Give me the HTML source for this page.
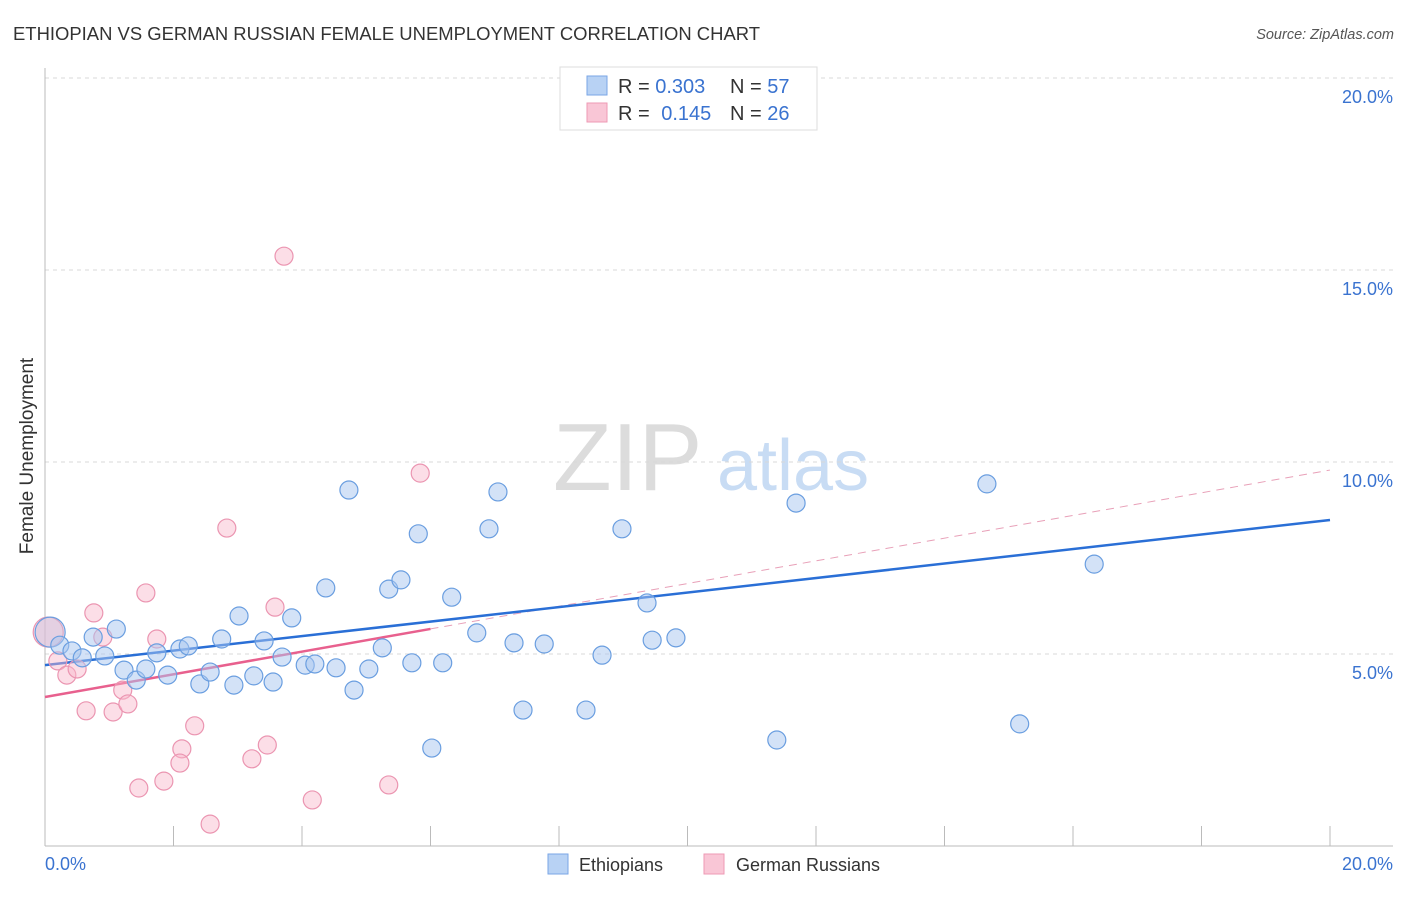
<!DOCTYPE html>
<html><head><meta charset="utf-8"><style>
body{margin:0;background:#fff;font-family:"Liberation Sans",sans-serif}
svg text{font-family:"Liberation Sans",sans-serif}
</style></head><body>
<svg id="c" width="1406" height="892" xmlns="http://www.w3.org/2000/svg">
<text x="13" y="40" font-size="18" fill="#333" textLength="747" lengthAdjust="spacingAndGlyphs">ETHIOPIAN VS GERMAN RUSSIAN FEMALE UNEMPLOYMENT CORRELATION CHART</text>
<text x="1394" y="39" font-size="14.5" fill="#555" font-style="italic" text-anchor="end">Source: ZipAtlas.com</text>
<text transform="translate(33,456) rotate(-90)" font-size="19" fill="#333" text-anchor="middle">Female Unemployment</text>
<g>
<text x="553" y="490" font-size="96" fill="#dcdcdc" font-family="Liberation Serif, serif">ZIP</text>
<text x="717" y="490" font-size="72" fill="#c8dcf4">atlas</text>
</g>
<g id="grid"></g><g id="axes"></g><g id="trend"></g><g id="pts"></g>
<g>
<rect x="560" y="67" width="257" height="63" fill="#fff" stroke="#ddd"/>
<rect x="587" y="76" width="20" height="19" fill="#b8d2f4" stroke="#7aa6e6"/>
<rect x="587" y="103" width="20" height="19" fill="#f9c6d6" stroke="#ee9ab4"/>
<text x="618" y="93" font-size="20" fill="#333">R = <tspan fill="#3a73d0">0.303</tspan></text>
<text x="730" y="93" font-size="20" fill="#333">N = <tspan fill="#3a73d0">57</tspan></text>
<text x="618" y="120" font-size="20" fill="#333">R = <tspan fill="#3a73d0" dx="6">0.145</tspan></text>
<text x="730" y="120" font-size="20" fill="#333">N = <tspan fill="#3a73d0">26</tspan></text>
</g>
<g>
<rect x="548" y="854" width="20" height="20" fill="#b8d2f4" stroke="#7aa6e6"/>
<text x="579" y="871" font-size="18" fill="#333">Ethiopians</text>
<rect x="704" y="854" width="20" height="20" fill="#f9c6d6" stroke="#ee9ab4"/>
<text x="736" y="871" font-size="18" fill="#333">German Russians</text>
</g>
</svg>
<script>
const yTicks=[5,10,15,20];
const yTickLabels=["5.0%","10.0%","15.0%","20.0%"];
const xTickLabels=["0.0%","20.0%"];
const blueX=[0.08,0.23,0.42,0.58,0.75,0.93,1.11,1.23,1.42,1.57,1.74,1.91,2.10,2.23,2.41,2.57,2.75,2.94,3.02,3.25,3.41,3.55,3.69,3.84,4.05,4.20,4.37,4.53,4.73,4.81,5.04,5.25,5.35,5.54,5.71,5.81,6.02,6.19,6.33,6.72,6.91,7.05,7.30,7.44,7.77,8.42,8.67,8.98,9.37,9.45,9.82,11.39,11.69,14.66,15.17,16.33];
const blueY=[5.57,5.23,5.08,4.90,5.44,4.95,5.65,4.58,4.32,4.61,5.03,4.45,5.13,5.21,4.22,4.53,5.39,4.19,5.99,4.43,5.34,4.27,4.92,5.94,4.71,4.74,6.72,4.64,9.27,4.06,4.61,5.16,6.69,6.93,4.77,8.13,2.55,4.77,6.48,5.55,8.26,9.22,5.29,3.54,5.26,3.54,4.97,8.26,6.33,5.36,5.42,2.76,8.93,9.43,3.18,7.34];
const pinkX=[0.05,0.20,0.34,0.50,0.64,0.76,0.90,1.06,1.21,1.29,1.46,1.57,1.74,1.85,2.13,2.10,2.33,2.57,2.83,3.22,3.46,3.58,3.72,4.16,5.35,5.84];
const pinkY=[5.57,4.82,4.45,4.61,3.52,6.07,5.44,3.49,4.06,3.70,1.51,6.59,5.39,1.69,2.53,2.16,3.13,0.57,8.28,2.27,2.63,6.22,15.36,1.20,1.59,9.71];
const blueTrend=[4.71,8.49];
const pinkTrend=[3.88,9.79];
const pinkSolidEnd=6;
const X=v=>45+v/20*1285, Y=v=>846-v*38.4;
const NS="http://www.w3.org/2000/svg";
function mk(parent,tag,attrs){const e=document.createElementNS(NS,tag);for(const k in attrs)e.setAttribute(k,attrs[k]);document.getElementById(parent).appendChild(e);return e;}
yTicks.forEach((t,i)=>{
 const g=mk('grid','line',{x1:45,x2:1393,y1:Y(t),y2:Y(t),stroke:'#d8d8d8','stroke-dasharray':'4,4'});
 
 
 const l=mk('grid','text',{x:1393,y:Y(t)+25,'font-size':18,fill:'#3a73d0','text-anchor':'end'});
 l.textContent=yTickLabels[i];
 
 
});
let a=mk('axes','line',{x1:45,x2:45,y1:68,y2:846,stroke:'#bbb'});


a=mk('axes','line',{x1:45,x2:1393,y1:846,y2:846,stroke:'#bbb'});


for(let i=1;i<=10;i++){const t=mk('axes','line',{x1:X(i*2),x2:X(i*2),y1:826,y2:846,stroke:'#bbb'});
 
 }
[[0,'start',45],[1,'end',1393]].forEach(([i,anc,x])=>{const t=mk('axes','text',{x:x,y:870,'font-size':18,fill:'#3a73d0','text-anchor':anc});t.textContent=xTickLabels[i];
 
 });
const lerp=(tr,x)=>tr[0]+(tr[1]-tr[0])*x/20;
let ln=mk('trend','line',{x1:X(0),y1:Y(lerp(pinkTrend,0)),x2:X(pinkSolidEnd),y2:Y(lerp(pinkTrend,pinkSolidEnd)),stroke:'#e8608e','stroke-width':2.5});


ln=mk('trend','line',{x1:X(pinkSolidEnd),y1:Y(lerp(pinkTrend,pinkSolidEnd)),x2:X(20),y2:Y(lerp(pinkTrend,20)),stroke:'#e8a0b8','stroke-width':1,'stroke-dasharray':'8,6'});


ln=mk('trend','line',{x1:X(0),y1:Y(lerp(blueTrend,0)),x2:X(20),y2:Y(lerp(blueTrend,20)),stroke:'#2a6fd6','stroke-width':2.5});


pinkX.forEach((x,i)=>{const c=mk('pts','circle',{cx:X(x),cy:Y(pinkY[i]),r:i==0?15:9,fill:'rgba(248,182,202,0.45)',stroke:'#eb95b1','stroke-width':1.2});
 
 });
blueX.forEach((x,i)=>{const c=mk('pts','circle',{cx:X(x),cy:Y(blueY[i]),r:i==0?15:9,fill:i==0?'rgba(200,190,220,0.45)':'rgba(168,198,240,0.5)',stroke:'#6a9ee0','stroke-width':1.2});
 
 });
</script>
</body></html>
